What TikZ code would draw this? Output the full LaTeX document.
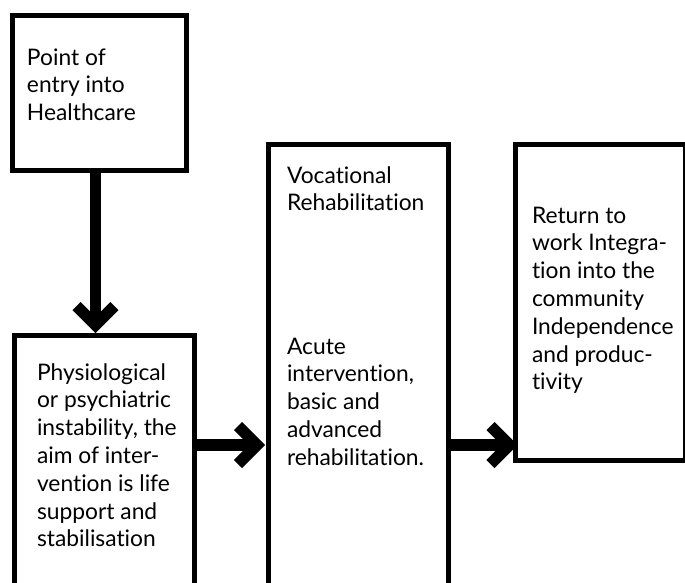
\documentclass[tikz,border=0pt]{standalone}
\usepackage{fontspec}
\setmainfont{Lato}[Ligatures={NoCommon,NoRequired,NoContextual}]
\usetikzlibrary{calc}
\begin{document}
\begin{tikzpicture}[x=1pt,y=-1pt,
  box/.style={draw=black, line width=5pt, inner sep=0pt, outer sep=0pt, anchor=north west},
  txt/.style={inner sep=0pt, outer sep=0pt, anchor=base west, font=\fontsize{22.8}{27.8}\selectfont},
  shaft/.style={draw=black, line width=11.5pt, line cap=butt},
  barb/.style={draw=black, line width=11.5pt, line cap=butt, line join=miter}]
\useasboundingbox (0,0) rectangle (685,582);
\clip (0,0) rectangle (685,582);
% boxes
\node[box, minimum width=174pt, minimum height=155pt] (entry) at (12.5,15.5) {};
\node[box, minimum width=180pt, minimum height=260pt] (phys) at (14.5,335.5) {};
\node[box, minimum width=180pt, minimum height=450pt] (mid) at (268.5,144.5) {};
\node[box, minimum width=170pt, minimum height=316pt] (ret) at (515.5,144.5) {};
% texts
\node[txt] (entrytext) at (27,65) {\parbox[t]{200pt}{Point of\\entry into\\Healthcare}};
\node[txt] (phystext) at (37,380) {\parbox[t]{200pt}{Physiological\\or psychiatric\\instability, the\\aim of inter-\\vention is life\\support and\\stabilisation}};
\node[txt] (voctext) at (287,183) {\parbox[t]{200pt}{Vocational\\Rehabilitation}};
\node[txt] (acutetext) at (287,354) {\parbox[t]{200pt}{Acute\\intervention,\\basic and\\advanced\\rehabilitation.}};
\node[txt] (rettext) at (532,223) {\parbox[t]{200pt}{Return to\\work Integra-\\tion into the\\community\\Independence\\and produc-\\tivity}};
% arrow levels
\coordinate (lvl) at (0,445);
% vertical arrow
\path (entry.south) ++(-4pt,0) coordinate (s1);
\path (s1 |- phys.north) ++(0,10.5pt) coordinate (v1);
\draw[shaft] (s1) -- (v1);
\draw[barb] ($(v1)+(-19pt,19pt)$) -- (v1) -- ($(v1)+(19pt,19pt)$);
% horizontal arrow 1
\path (phys.east |- lvl) coordinate (s2);
\path (mid.west |- lvl) ++(-11.5pt,0) coordinate (v2);
\draw[shaft] (s2) -- (v2);
\draw[barb] ($(v2)+(-19pt,19pt)$) -- (v2) -- ($(v2)+(-19pt,-19pt)$);
% horizontal arrow 2
\path (mid.east |- lvl) coordinate (s3);
\path (ret.west |- lvl) ++(-6pt,0) coordinate (v3);
\draw[shaft] (s3) -- (v3);
\draw[barb] ($(v3)+(-19pt,19pt)$) -- (v3) -- ($(v3)+(-19pt,-19pt)$);
\end{tikzpicture}
\end{document}
